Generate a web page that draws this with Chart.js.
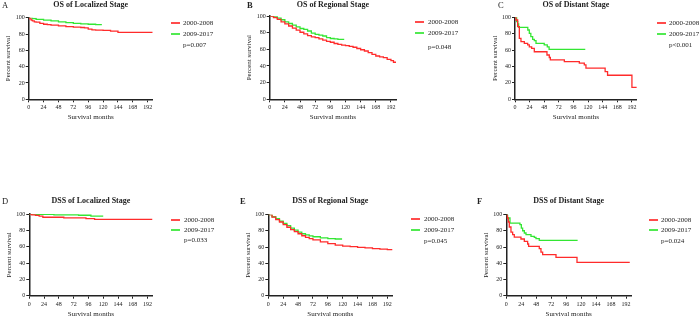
<!DOCTYPE html>
<html>
<head>
<meta charset="utf-8">
<script src="https://cdn.jsdelivr.net/npm/chart.js@4.4.1/dist/chart.umd.min.js"></script>
<style>
  body { margin: 0; width: 700px; height: 317px; position: relative; overflow: hidden; background: #fff;
         font-family: "Liberation Serif", "Times New Roman", serif; color: #222; }
  canvas { position: absolute; }
  .txt { position: absolute; white-space: nowrap; line-height: 1; }
  .line { position: absolute; height: 2px; opacity: 0.85; }
</style>
</head>
<body>
<script>
// tick labels + legend text
const xTicks = [0, 24, 48, 72, 96, 120, 144, 168, 192];
const yTicks = [0, 20, 40, 60, 80, 100];
const groups = ["2000-2008", "2009-2017"];
const titles = ["OS of Localized Stage", "OS of Regional Stage", "OS of Distant Stage",
                "DSS of Localized Stage", "DSS of Regional Stage", "DSS of Distant Stage"];
const letters = ["A", "B", "C", "D", "E", "F"];
const pValues = ["p=0.007", "p=0.048", "p<0.001", "p=0.033", "p=0.045", "p=0.024"];

// A - OS localized
const osLocT1 = [0, 2, 4, 6, 9, 12, 18, 24, 30, 36, 48, 60, 72, 84, 90, 96, 102, 108, 120, 132, 144, 200];
const osLocS1 = [100, 98.5, 97, 96, 95, 94.5, 93, 92, 91.5, 91, 90, 89, 88.5, 88, 87.5, 86, 85, 84.8, 84.5, 83.5, 82, 82];
const osLocT2 = [0, 6, 12, 24, 36, 48, 60, 72, 84, 96, 108, 118];
const osLocS2 = [100, 99, 98, 97, 96, 95, 94, 93, 92.5, 92, 91.5, 91.5];

// B - OS regional
const osRegT1 = [0, 6, 12, 18, 24, 30, 36, 42, 48, 54, 60, 66, 72, 78, 84, 90, 96, 102, 108, 114, 120, 126, 132, 138, 144, 150, 156, 162, 168, 174, 180, 186, 192, 196, 199];
const osRegS1 = [100, 98, 96, 93, 90.5, 88, 85.5, 83, 80.5, 78.5, 76.5, 75, 74, 72.5, 71, 69.5, 68.5, 67, 66, 65, 64.5, 63.5, 62.5, 61, 59.5, 58, 56, 54, 52, 51, 50, 48, 46.5, 44.5, 43.5];
const osRegT2 = [0, 6, 12, 18, 24, 30, 36, 42, 48, 54, 60, 66, 72, 78, 84, 90, 96, 102, 108, 118];
const osRegS2 = [100, 99, 97.5, 95.5, 93, 91, 89, 87, 85, 84, 82, 79.5, 78, 77, 76, 74, 73, 72.5, 72, 72];

// C - OS distant
const osDisT1 = [0, 1.6, 4.4, 7.1, 9.8, 15.3, 20.8, 23.5, 27.4, 31.7, 52.5, 56.3, 58, 81, 105.6, 113.8, 116.5, 148, 152, 192, 200];
const osDisS1 = [100, 96.7, 88.6, 74.4, 70.3, 68.3, 66.3, 64, 62, 58, 54, 51, 48, 46, 44, 42, 38, 33.7, 29.3, 14.6, 14.6];
const osDisT2 = [0, 2.7, 4.4, 6, 21, 23.5, 26, 29, 31.7, 34.5, 48, 53, 56, 115.4];
const osDisS2 = [100, 94.7, 91.9, 87.8, 84.5, 80.5, 76.4, 73.2, 71.5, 68.3, 66.3, 64, 61, 61];

// D - DSS localized
const dssLocT1 = [0, 4, 10, 16, 22, 56, 92, 106, 200];
const dssLocS1 = [100, 99, 98.4, 97.5, 96, 95.2, 94.3, 93.5, 93.5];
const dssLocT2 = [0, 12, 40, 80, 100, 120];
const dssLocS2 = [100, 99.5, 99, 98.5, 97.5, 97.5];

// E - DSS regional
const dssRegT1 = [0, 6, 12, 18, 24, 30, 36, 42, 48, 54, 60, 66, 72, 84, 96, 108, 120, 132, 144, 156, 168, 180, 192, 200];
const dssRegS1 = [100, 97, 94, 91, 87.7, 84.5, 81.5, 79, 76.5, 74, 72, 70.5, 69, 66.5, 64.2, 62.5, 61.3, 60.5, 59.7, 59, 58, 57.5, 56.8, 56];
const dssRegT2 = [0, 6, 12, 18, 24, 30, 36, 42, 48, 54, 60, 66, 72, 84, 96, 108, 119];
const dssRegS2 = [100, 97.5, 95, 92, 89.3, 86.5, 83.5, 81, 78.6, 76.5, 75, 73.8, 72.8, 71.5, 70.4, 70, 70];

// F - DSS distant
const dssDisT1 = [0, 1.6, 3.2, 4.8, 7.5, 10.2, 12.8, 23.5, 28.9, 34.2, 35.8, 52.9, 55.6, 58.3, 79.7, 113.4, 198];
const dssDisS1 = [100, 95.9, 91, 84.8, 78.6, 75.3, 72.4, 70, 67, 63.8, 61, 58, 53.9, 50.6, 47.3, 41.2, 41.2];
const dssDisT2 = [0, 2.1, 5.9, 21.9, 24.1, 26.2, 28.9, 31.6, 39.6, 44.9, 47.6, 52.9, 114.4];
const dssDisS2 = [100, 95.9, 89.7, 87.7, 83.5, 80.2, 77.4, 75.3, 73.3, 72, 70.4, 68.3, 68.3];

const series = [
  [[osLocT1, osLocS1], [osLocT2, osLocS2]],
  [[osRegT1, osRegS1], [osRegT2, osRegS2]],
  [[osDisT1, osDisS1], [osDisT2, osDisS2]],
  [[dssLocT1, dssLocS1], [dssLocT2, dssLocS2]],
  [[dssRegT1, dssRegS1], [dssRegT2, dssRegS2]],
  [[dssDisT1, dssDisS1], [dssDisT2, dssDisS2]]
];

const colors = ["#ff2b2b", "#33e633"];
const FONT = "'Liberation Serif', 'Times New Roman', serif";

// panel placement (page px): canvas box, plot area, legend, letter
const boxes = [
  { x: 0,   y: 0,   w: 233, h: 158, L: 28.7, R: 152.7, T: 17.7, B: 99.3, lx: 171,   tx: 183, ly: [23.3, 34, 45],      cx: 2,   ty: 5,     bold: false },
  { x: 233, y: 0,   w: 233, h: 158, L: 36.7, R: 163,   T: 16,   B: 99.3, lx: 414.7, tx: 428, ly: [22, 33, 46.7],      cx: 247, ty: 5,     bold: true },
  { x: 466, y: 0,   w: 234, h: 158, L: 49,   R: 170.8, T: 17.3, B: 99.3, lx: 657,   tx: 669, ly: [22.7, 33.7, 45],    cx: 498, ty: 5,     bold: false },
  { x: 0,   y: 158, w: 233, h: 159, L: 29.3, R: 152.5, T: 56,   B: 137.7, lx: 171,  tx: 184, ly: [219.7, 230, 240.3], cx: 2,   ty: 201.3, bold: false },
  { x: 233, y: 158, w: 233, h: 159, L: 35.3, R: 159.3, T: 56.7, B: 137.7, lx: 410.7, tx: 424, ly: [219, 229.7, 241.3], cx: 240, ty: 201.3, bold: true },
  { x: 466, y: 158, w: 234, h: 159, L: 40.3, R: 165,   T: 56.7, B: 137.7, lx: 648.7, tx: 661, ly: [219.7, 230.3, 241.3], cx: 477, ty: 201.3, bold: true }
];

function addText(str, x, y, css, center) {
  const d = document.createElement("div");
  d.className = "txt";
  d.textContent = str;
  d.style.left = x + "px";
  d.style.top = y + "px";
  d.style.transform = center ? "translate(-50%,-50%)" : "translateY(-50%)";
  Object.assign(d.style, css);
  document.body.appendChild(d);
}

const YW = 24.5, XH = 22.2;

boxes.forEach((b, i) => {
  const cv = document.createElement("canvas");
  cv.width = b.w;
  cv.height = b.h;
  cv.style.left = b.x + "px";
  cv.style.top = b.y + "px";
  document.body.appendChild(cv);

  const datasets = series[i].map((s, k) => ({
    label: groups[k],
    data: s[0].map((t, j) => ({ x: t, y: s[1][j] })),
    borderColor: colors[k],
    borderWidth: 1.3,
    pointRadius: 0,
    stepped: true,
    fill: false
  }));

  new Chart(cv, {
    type: "line",
    data: { datasets: datasets },
    options: {
      responsive: false,
      animation: false,
      layout: { padding: { left: b.L - YW, right: b.w - b.R, top: b.T, bottom: b.h - b.B - XH } },
      plugins: { legend: { display: false }, tooltip: { enabled: false } },
      scales: {
        x: {
          type: "linear", min: 0, max: 200,
          afterFit: (s) => { s.height = XH; },
          afterBuildTicks: (s) => { s.ticks = xTicks.map((v) => ({ value: v })); },
          ticks: { font: { family: FONT, size: 6 }, color: "#222", padding: 2, maxRotation: 0, autoSkip: false },
          grid: { drawOnChartArea: false, color: "#222", tickLength: 3 },
          border: { color: "#222", width: 1.5 },
          title: { display: true, text: "Survival months", font: { family: FONT, size: 7 }, color: "#222", padding: 0 }
        },
        y: {
          min: 0, max: 100,
          afterFit: (s) => { s.width = YW; },
          afterBuildTicks: (s) => { s.ticks = yTicks.map((v) => ({ value: v })); },
          ticks: { font: { family: FONT, size: 6 }, color: "#222", padding: 1 },
          grid: { drawOnChartArea: false, color: "#222", tickLength: 3 },
          border: { color: "#222", width: 1.5 },
          title: { display: true, text: "Percent survival", font: { family: FONT, size: 7 }, color: "#222", padding: 0 }
        }
      }
    }
  });

  // title, panel letter
  addText(titles[i], b.x + (b.L + b.R) / 2, b.ty, { fontSize: "8px", fontWeight: "bold" }, true);
  addText(letters[i], b.cx, b.ty, { fontSize: "8.5px", fontWeight: b.bold ? "bold" : "normal" }, false);

  // legend
  groups.forEach((g, k) => {
    const ln = document.createElement("div");
    ln.className = "line";
    ln.style.left = Math.round(b.lx) + "px";
    ln.style.width = "9px";
    ln.style.top = Math.round(b.ly[k] - 1) + "px";
    ln.style.background = colors[k];
    document.body.appendChild(ln);
    addText(g, b.tx, b.ly[k], { fontSize: "7px" }, false);
  });
  addText(pValues[i], b.tx, b.ly[2], { fontSize: "7px" }, false);
});
</script>
</body>
</html>
